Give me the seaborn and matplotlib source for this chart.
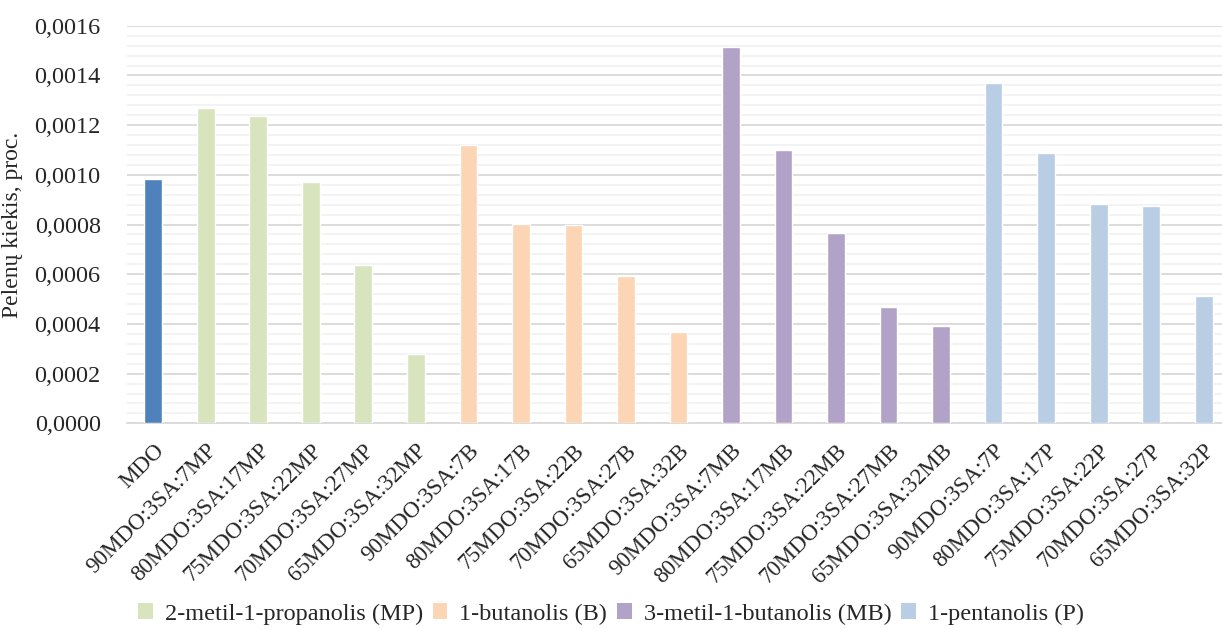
import matplotlib
matplotlib.use("Agg")
import matplotlib.pyplot as plt
from matplotlib.patches import Patch
from matplotlib.ticker import MultipleLocator, FuncFormatter
import pandas as pd
import seaborn as sns

categories = [
    "MDO",
    "90MDO:3SA:7MP", "80MDO:3SA:17MP", "75MDO:3SA:22MP", "70MDO:3SA:27MP", "65MDO:3SA:32MP",
    "90MDO:3SA:7B", "80MDO:3SA:17B", "75MDO:3SA:22B", "70MDO:3SA:27B", "65MDO:3SA:32B",
    "90MDO:3SA:7MB", "80MDO:3SA:17MB", "75MDO:3SA:22MB", "70MDO:3SA:27MB", "65MDO:3SA:32MB",
    "90MDO:3SA:7P", "80MDO:3SA:17P", "75MDO:3SA:22P", "70MDO:3SA:27P", "65MDO:3SA:32P",
]
ash_content = [
    0.000984,
    0.001270, 0.001237, 0.000972, 0.000637, 0.000279,
    0.001121, 0.000801, 0.000797, 0.000593, 0.000368,
    0.001515, 0.001101, 0.000766, 0.000468, 0.000392,
    0.001370, 0.001088, 0.000883, 0.000875, 0.000513,
]
groups = (["MDO"]
          + ["2-metil-1-propanolis (MP)"] * 5
          + ["1-butanolis (B)"] * 5
          + ["3-metil-1-butanolis (MB)"] * 5
          + ["1-pentanolis (P)"] * 5)
group_colors = {
    "MDO": "#4F81BD",
    "2-metil-1-propanolis (MP)": "#D7E4BD",
    "1-butanolis (B)": "#FCD5B5",
    "3-metil-1-butanolis (MB)": "#B3A2C7",
    "1-pentanolis (P)": "#B9CDE5",
}
legend_groups = ["2-metil-1-propanolis (MP)", "1-butanolis (B)",
                 "3-metil-1-butanolis (MB)", "1-pentanolis (P)"]

df = pd.DataFrame({"cat": categories, "val": ash_content, "grp": groups})

sns.set_style("white")
plt.rcParams["font.family"] = ["Liberation Serif", "DejaVu Serif"]
plt.rcParams["font.size"] = 17.5

fig = plt.figure(figsize=(12.22, 6.29), dpi=100)
ax = fig.add_axes([0.104, 0.327, 0.896, 0.632])

sns.barplot(data=df, x="cat", y="val", hue="grp", dodge=False,
            palette=group_colors, width=0.34, legend=False, ax=ax,
            saturation=1, zorder=3)

ax.set_ylim(0, 0.0016)
ax.set_xlim(-0.5, 20.35)
ax.yaxis.set_major_locator(MultipleLocator(0.0002))
ax.yaxis.set_minor_locator(MultipleLocator(0.00004))
ax.yaxis.set_major_formatter(FuncFormatter(lambda v, p: f"{v:.4f}".replace(".", ",")))
ax.grid(axis="y", which="major", color="#D9D9D9", linewidth=1.3, zorder=0)
ax.grid(axis="y", which="minor", color="#F2F2F2", linewidth=1.3, zorder=0)
ax.set_axisbelow(True)
for s in ["left", "right", "top"]:
    ax.spines[s].set_visible(False)
ax.spines["bottom"].set_color("#D9D9D9")
ax.spines["bottom"].set_linewidth(1.3)
ax.tick_params(axis="both", length=0)
ax.tick_params(axis="y", pad=19, labelsize=17.5)

ax.set_xlabel("")
ax.set_ylabel("Pelenų kiekis, proc.", fontsize=17, labelpad=8)
ax.set_xticks(range(len(categories)))
ax.set_xticklabels(categories, rotation=45, ha="right", rotation_mode="anchor",
                   fontsize=16.5)
ax.tick_params(axis="x", pad=12)

handles = [Patch(facecolor=group_colors[g], edgecolor="none") for g in legend_groups]
fig.legend(handles, legend_groups, loc="center", bbox_to_anchor=(0.5, 0.024),
           ncol=4, frameon=False, fontsize=17.5, handlelength=0.6, handleheight=0.6,
           handletextpad=0.5, columnspacing=0.4)

fig.savefig("out.png", dpi=100)
